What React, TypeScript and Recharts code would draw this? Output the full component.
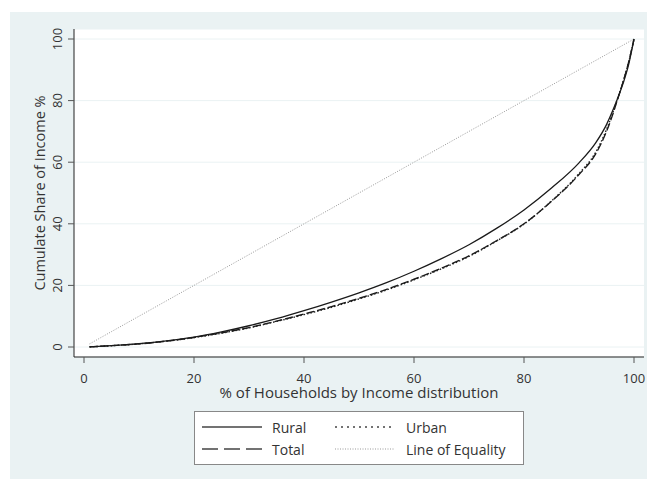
import React from 'react';
import { LineChart, Line, XAxis, YAxis, CartesianGrid } from 'recharts';

// Percentiles of households (x) and cumulative income share (%) per group
const pct = [1, 5, 10, 15, 20, 25, 30, 35, 40, 45, 50, 55, 60, 65, 70, 75, 80, 85, 90, 93, 95, 96, 97, 98, 99, 100];
const rural = [0.05, 0.45, 1.1, 2.0, 3.2, 4.9, 6.9, 9.2, 11.8, 14.6, 17.6, 20.9, 24.6, 28.7, 33.2, 38.5, 44.5, 51.6, 59.8, 66.2, 72.2, 76.2, 80.6, 85.5, 91.5, 100];
const urban = [0.05, 0.42, 1.0, 1.9, 3.05, 4.5, 6.2, 8.3, 10.5, 12.9, 15.6, 18.5, 21.8, 25.4, 29.4, 34.4, 39.9, 47.4, 56.3, 63.1, 70.6, 75.3, 80.6, 86.1, 92.3, 100];
const total = [0.05, 0.43, 1.0, 1.9, 3.1, 4.6, 6.3, 8.4, 10.7, 13.1, 15.8, 18.7, 22.0, 25.6, 29.6, 34.5, 40.0, 47.3, 56.0, 62.6, 70.0, 74.8, 80.3, 86.0, 92.3, 100];

const equalityPct = [1, 100];
const equalityShare = [1, 100];

const xTicks = [0, 20, 40, 60, 80, 100];
const yTicks = [0, 20, 40, 60, 80, 100];

const rows = pct.map((p, i) => ({ pct: p, rural: rural[i], urban: urban[i], total: total[i] }));
const eqRows = equalityPct.map((p, i) => ({ pct: p, share: equalityShare[i] }));

const FONT = '"Open Sans", sans-serif';
const TEXT = '#333';

const YTick = (props: any) => {
  const { x, y, payload } = props;
  const cx = x - 9;
  return (
    <text
      x={cx}
      y={y}
      transform={`rotate(-90 ${cx} ${y})`}
      textAnchor="middle"
      dominantBaseline="central"
      fontSize={13}
      fill={TEXT}
      fontFamily={FONT}
    >
      {payload.value}
    </text>
  );
};

const Legend = () => (
  <div
    style={{
      position: 'absolute',
      left: 194,
      top: 411,
      width: 328,
      height: 52,
      border: '1px solid #888',
      background: '#fff',
    }}
  >
    <svg width={328} height={52} style={{ display: 'block' }}>
      <line x1={7} y1={15} x2={67} y2={15} stroke="#444" strokeWidth={1.5} />
      <text x={77} y={15} dominantBaseline="central" fontSize={14} fill={TEXT} fontFamily={FONT}>Rural</text>
      <line x1={140} y1={15} x2={200} y2={15} stroke="#444" strokeWidth={1.5} strokeDasharray="2 4" />
      <text x={211} y={15} dominantBaseline="central" fontSize={14} fill={TEXT} fontFamily={FONT}>Urban</text>
      <line x1={7} y1={37} x2={67} y2={37} stroke="#444" strokeWidth={1.5} strokeDasharray="16 6" />
      <text x={77} y={37} dominantBaseline="central" fontSize={14} fill={TEXT} fontFamily={FONT}>Total</text>
      <line x1={140} y1={37} x2={200} y2={37} stroke="#999" strokeWidth={1} strokeDasharray="1 1.5" />
      <text x={211} y={37} dominantBaseline="central" fontSize={14} fill={TEXT} fontFamily={FONT}>Line of Equality</text>
    </svg>
  </div>
);

export default function App() {
  return (
    <div style={{ position: 'absolute', left: 0, top: 0, width: 647, height: 479, background: '#fff', fontFamily: FONT }}>
      <div style={{ position: 'absolute', left: 10, top: 12, width: 637, height: 467, background: '#eaf2f3' }} />
      <div style={{ position: 'absolute', left: 0, top: 0 }}>
        <LineChart width={647} height={479} data={rows} margin={{ top: 29, right: 3, bottom: 0, left: 0 }}>
          <CartesianGrid vertical={false} stroke="#eaf2f3" fill="#fff" />
          <XAxis
            dataKey="pct"
            type="number"
            domain={[0, 100]}
            ticks={xTicks}
            padding={{ left: 10, right: 10 }}
            height={122}
            tickSize={6}
            tickMargin={11}
            stroke="#222"
            tickLine={{ stroke: '#555' }}
            tick={{ fontSize: 13, fill: TEXT, fontFamily: FONT }}
            label={{
              content: () => (
                <text x={359} y={392} textAnchor="middle" dominantBaseline="central" fontSize={15} fill={TEXT} fontFamily={FONT}>
                  % of Households by Income distribution
                </text>
              ),
            }}
          />
          <YAxis
            type="number"
            domain={[0, 100]}
            ticks={yTicks}
            padding={{ top: 10, bottom: 10 }}
            width={74}
            tickSize={6}
            stroke="#222"
            tickLine={{ stroke: '#555' }}
            tick={<YTick />}
            label={{
              content: () => (
                <text
                  x={39}
                  y={193}
                  transform="rotate(-90 39 193)"
                  textAnchor="middle"
                  dominantBaseline="central"
                  fontSize={14.5}
                  fill={TEXT}
                  fontFamily={FONT}
                >
                  Cumulate Share of Income %
                </text>
              ),
            }}
          />
          <Line data={eqRows} dataKey="share" type="linear" stroke="#999" strokeWidth={1} strokeDasharray="1 1.5" dot={false} isAnimationActive={false} />
          <Line dataKey="total" type="monotone" stroke="#1a1a1a" strokeWidth={1.4} strokeDasharray="8 3" dot={false} isAnimationActive={false} />
          <Line dataKey="urban" type="monotone" stroke="#222" strokeWidth={1.4} strokeDasharray="1.5 2" dot={false} isAnimationActive={false} />
          <Line dataKey="rural" type="monotone" stroke="#1a1a1a" strokeWidth={1.3} dot={false} isAnimationActive={false} />
        </LineChart>
      </div>
      <Legend />
    </div>
  );
}
